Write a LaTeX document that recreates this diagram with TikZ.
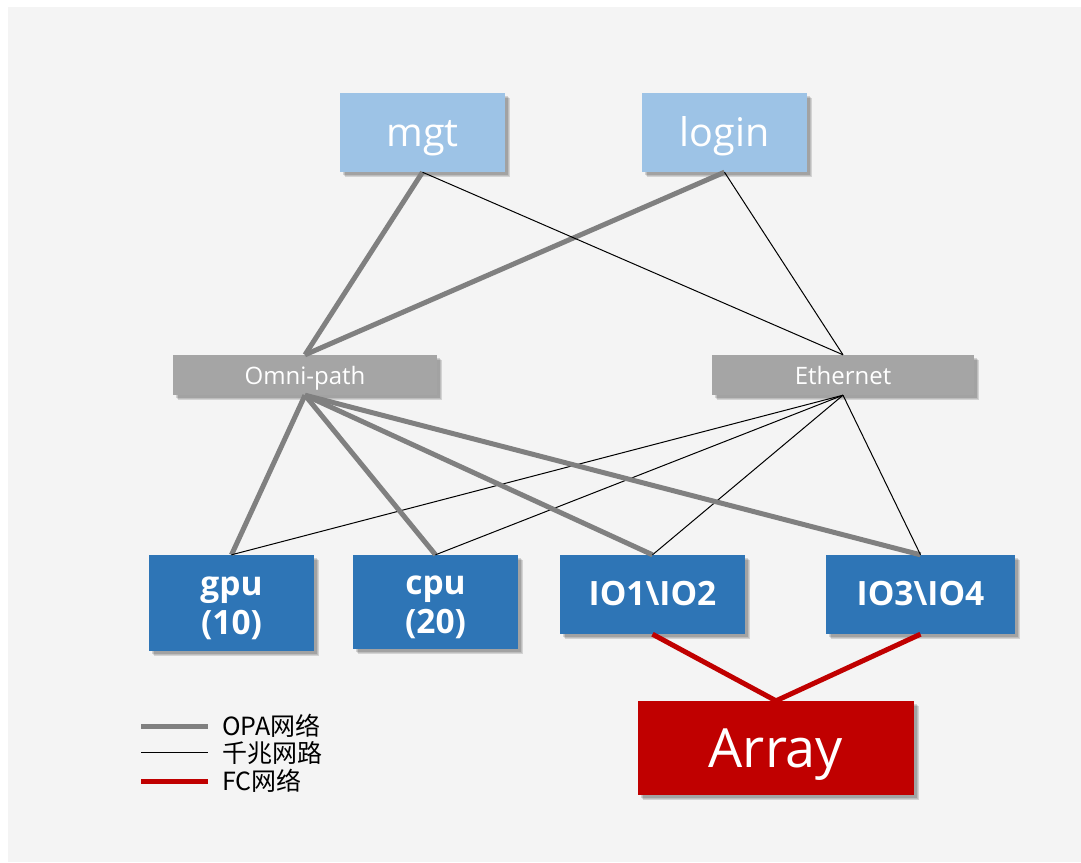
\documentclass[tikz,border=0pt]{standalone}
\usepackage{fontspec}
\setmainfont{Open Sans}
\newfontfamily\cjk{Noto Sans CJK SC}
\usetikzlibrary{shadows}
\definecolor{bgc}{HTML}{F4F4F4}
\definecolor{topc}{HTML}{9DC3E6}
\definecolor{swc}{HTML}{A5A5A5}
\definecolor{nodec}{HTML}{2E75B6}
\definecolor{arrc}{HTML}{C00000}
\definecolor{opac}{HTML}{808080}
\begin{document}
\begin{tikzpicture}[x=1pt,y=-1pt,
  softshadow/.style={
    drop shadow={shadow xshift=5pt, shadow yshift=-5pt, fill=black, opacity=0.06},
    drop shadow={shadow xshift=4.5pt, shadow yshift=-4.5pt, fill=black, opacity=0.08},
    drop shadow={shadow xshift=4pt, shadow yshift=-4pt, fill=black, opacity=0.10},
    drop shadow={shadow xshift=3pt, shadow yshift=-3pt, fill=black, opacity=0.14}},
  box/.style={rectangle, inner sep=0pt, text=white, align=center, softshadow},
  topbox/.style={box, fill=topc, minimum width=165pt, minimum height=79pt, text height=27pt, text depth=0pt, font=\fontsize{39.5}{42}\selectfont},
  swbox/.style={box, fill=swc, minimum height=40pt, text height=18pt, text depth=0pt, font=\fontsize{24}{26}\selectfont},
  cbox/.style={box, fill=nodec, text height=63pt, text depth=1pt, font=\bfseries\fontsize{33.5}{39}\selectfont},
  iobox/.style={box, fill=nodec, minimum height=79pt, text height=22pt, text depth=0pt, font=\bfseries\fontsize{33.5}{39}\selectfont},
  abox/.style={box, fill=arrc, text height=39pt, text depth=0pt, font=\fontsize{54}{58}\selectfont},
  opa/.style={line width=5pt, draw=opac},
  gig/.style={line width=1pt, draw=black},
  fc/.style={line width=5pt, draw=arrc},
  legtext/.style={anchor=west, inner sep=0pt, font=\cjk\fontsize{25}{27}\selectfont}]
\useasboundingbox (0,0) rectangle (1081,862);
\fill[white] (0,0) rectangle (1081,862);
\fill[bgc] (8,7) rectangle (1081,862);

\node[topbox] (mgt) at (422.5,132.5) {mgt};
\node[topbox] (login) at (724.5,132.5) {login};
\node[swbox, minimum width=264pt] (omni) at (305,375) {Omni-path};
\node[swbox, minimum width=262pt] (eth) at (843,375) {Ethernet};
\node[cbox, minimum width=165pt, minimum height=96pt] (gpu) at (231.5,603) {gpu\\(10)};
\node[cbox, minimum width=165pt, minimum height=94pt] (cpu) at (435.5,602) {cpu\\(20)};
\node[iobox, minimum width=185pt] (io12) at (652.5,594.5) {IO1\textbackslash IO2};
\node[iobox, minimum width=189pt] (io34) at (920.5,594.5) {IO3\textbackslash IO4};
\node[abox, minimum width=276pt, minimum height=94pt] (array) at (776,748) {Array};

\draw[opa] (mgt.south) -- (omni.north);
\draw[opa] (login.south) -- (omni.north);
\draw[gig] (mgt.south) -- (eth.north);
\draw[gig] (login.south) -- (eth.north);
\foreach \n in {gpu,cpu,io12,io34} {
  \draw[opa] (omni.south) -- (\n.north);
  \draw[gig] (eth.south) -- (\n.north);
}
\draw[fc] (io12.south) -- (array.north);
\draw[fc] (io34.south) -- (array.north);

\coordinate (l1a) at (141,726); \coordinate (l1b) at (208,726);
\coordinate (l2a) at (141,752); \coordinate (l2b) at (208,752);
\coordinate (l3a) at (141,781); \coordinate (l3b) at (208,781);
\draw[opa] (l1a) -- (l1b);
\draw[gig] (l2a) -- (l2b);
\draw[fc] (l3a) -- (l3b);
\node[legtext] (t1) at (222,726) {OPA网络};
\node[legtext] (t2) at (222,753) {千兆网路};
\node[legtext] (t3) at (222,781) {FC网络};
\end{tikzpicture}
\end{document}
